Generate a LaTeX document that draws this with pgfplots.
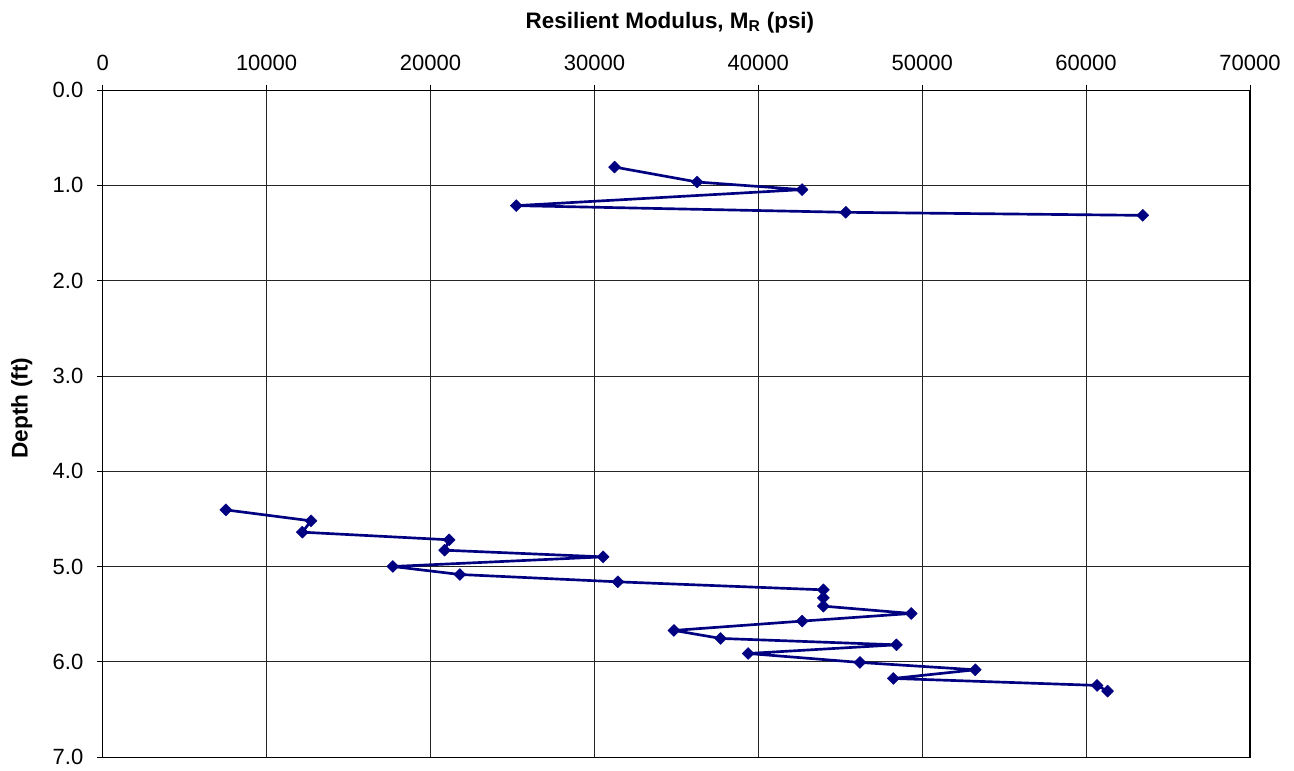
\documentclass[border=0pt]{standalone}
\usepackage{pgfplots}
\pgfplotsset{compat=1.18}
\usepackage{fontspec}
\setmainfont{Liberation Sans}
\definecolor{navyline}{RGB}{0,0,128}
\begin{document}
\begin{tikzpicture}
\begin{axis}[
  name=ax,
  scale only axis,
  width=860pt, height=500pt,
  xmin=0, xmax=70000, ymin=0, ymax=7,
  y dir=reverse,
  xtick={0,10000,...,70000},
  ytick={0,1,...,7},
  xtick pos=right, xticklabel pos=right,
  ytick pos=left,
  tick align=outside,
  major tick length=4pt,
  grid=major,
  major grid style={black!85, line width=0.6pt},
  axis line style={black, line width=0.8pt},
  tick style={black, line width=0.6pt},
  scaled x ticks=false,
  /pgf/number format/assume math mode=true,
  xticklabel style={/pgf/number format/set thousands separator={}, font=\fontsize{16.5}{18}\selectfont, yshift=7pt},
  yticklabel style={/pgf/number format/fixed, /pgf/number format/fixed zerofill, /pgf/number format/precision=1, font=\fontsize{16.5}{18}\selectfont, xshift=-7pt},
  every axis plot/.append style={line join=round},
  clip=false,
]
\addplot[navyline, line width=2pt, mark=square*, mark size=3.2pt, mark options={rotate=45, fill=navyline, draw=navyline, line width=0.3pt}] coordinates {
(31230,0.808) (36270,0.965) (42670,1.045) (25230,1.213) (45340,1.283) (63460,1.315)
};
\addplot[navyline, line width=2pt, mark=square*, mark size=3.2pt, mark options={rotate=45, fill=navyline, draw=navyline, line width=0.3pt}] coordinates {
(7515,4.406) (12710,4.521) (12180,4.640) (21140,4.720) (20860,4.829) (30530,4.899)
(17700,5.000) (21790,5.084) (31430,5.161) (43970,5.245) (43970,5.329) (43970,5.416)
(49330,5.493) (42680,5.573) (34850,5.671) (37700,5.755) (48430,5.822) (39380,5.913)
(46200,6.007) (53240,6.084) (48240,6.175) (60670,6.248) (61310,6.308)
};
\end{axis}
\node[font=\fontsize{16.8}{20}\selectfont\bfseries, anchor=base] at ([xshift=-4.8pt,yshift=46.5pt]ax.north) {Resilient Modulus, M\textsubscript{R} (psi)};
\node[font=\fontsize{17}{20}\selectfont\bfseries, rotate=90] at ([xshift=-60.75pt,yshift=11.6pt]ax.west) {Depth (ft)};
\pgfresetboundingbox
\path ([xshift=-77pt,yshift=-10pt]ax.south west) rectangle ([xshift=33pt,yshift=67.5pt]ax.north east);
\end{tikzpicture}
\end{document}
